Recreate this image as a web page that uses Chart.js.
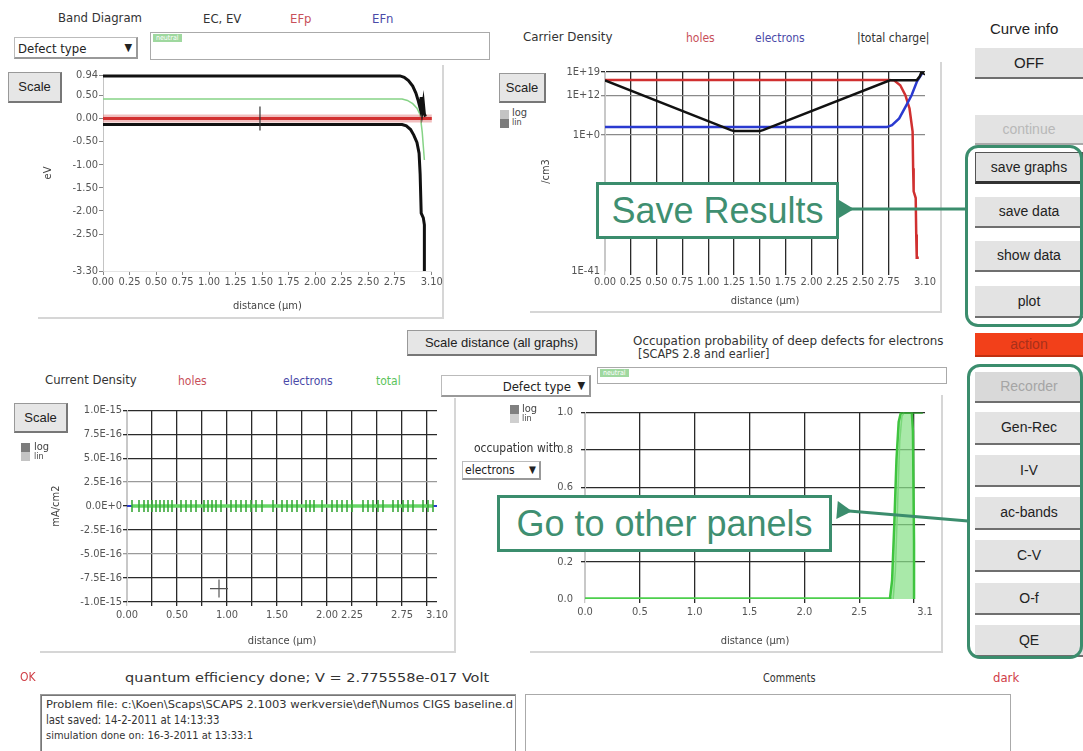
<!DOCTYPE html>
<html>
<head>
<meta charset="utf-8">
<title>SCAPS results panel</title>
<script src="https://cdn.jsdelivr.net/npm/chart.js@4.4.1/dist/chart.umd.min.js"></script>
<style>
  body { margin:0; width:1083px; height:751px; overflow:hidden; background:#fff; position:relative;
         font-family:"Liberation Sans Narrow","DejaVu Sans Condensed","Liberation Sans",sans-serif; color:#333; }
  .a { position:absolute; white-space:nowrap; z-index:5; transform-origin:0 0; }
  canvas { position:absolute; z-index:1; }
  .btn { position:absolute; z-index:5; background:#e3e3e3; border-bottom:2px solid #6f6f6f; box-sizing:border-box;
         text-align:center; font-size:14px; color:#222; font-family:"Liberation Sans","DejaVu Sans",sans-serif; }
  .scale { position:absolute; z-index:5; background:#e6e6e6; border:1px solid #999; border-right:2px solid #777; border-bottom:2px solid #777;
           box-sizing:border-box; text-align:center; font-size:13px; color:#222; font-family:"Liberation Sans",sans-serif; }
  .drop { position:absolute; z-index:5; border:1px solid #bbb; border-right:2px solid #999; border-bottom:2px solid #999;
          box-sizing:border-box; font-size:13px; color:#222; background:#fff; }
  .tbox { position:absolute; z-index:5; border:1px solid #aaa; box-sizing:border-box; background:#fff; }
  .neutral { position:absolute; font-size:7px; color:#fff; background:#9fd89f; padding:0 3px; line-height:8px; }
  .sq { position:absolute; z-index:5; width:9px; height:9px; }
  .lbl { position:absolute; z-index:5; font-size:11px; line-height:10px; color:#444; }
  .frame { position:absolute; z-index:0; background:#d6d6d6; }
  .callout { position:absolute; z-index:6; border:3px solid #3b8d6d; background:#fff; box-sizing:border-box;
             font-family:"Liberation Sans",Arial,sans-serif; color:#3f8f71; text-align:center; }
  .group { position:absolute; z-index:7; border:3px solid #3b8d6d; border-radius:13px; box-sizing:border-box; }
</style>
</head>
<body>
<script>
// ---- Band diagram (eV vs distance in µm) ----
const bandYTicks = [-3.30, -2.50, -2.00, -1.50, -1.00, -0.50, 0.00, 0.50, 0.94];
const bandXTicks = [0, 0.25, 0.5, 0.75, 1.0, 1.25, 1.5, 1.75, 2.0, 2.25, 2.5, 2.75, 3.10];
const ecDist   = [0, 2.80, 2.84, 2.88, 2.92, 2.95, 2.97, 2.99, 3.00, 3.01, 3.02, 3.03, 3.04];
const ecEnergy = [0.92, 0.92, 0.89, 0.82, 0.70, 0.55, 0.40, 0.22, 0.46, 0.18, 0.34, 0.10, 0.04];
const evDist   = [0, 2.82, 2.86, 2.90, 2.93, 2.96, 2.98, 2.99, 3.00, 3.02, 3.03, 3.03];
const evEnergy = [-0.13, -0.13, -0.16, -0.24, -0.36, -0.52, -0.75, -1.20, -2.05, -2.15, -2.30, -3.30];
const efpDist   = [0, 3.10];
const efpEnergy = [0.00, 0.00];
const etDist   = [0, 2.82, 2.87, 2.92, 2.96, 2.99, 3.01, 3.03];
const etEnergy = [0.42, 0.42, 0.39, 0.32, 0.22, 0.08, -0.30, -0.90];
const bandCursor = [1.48, 0.0];

// ---- Carrier density (/cm3, log) ----
const carrierYTicks  = [1e-41, 1e0, 1e12, 1e19];
const carrierYLabels = ['1E-41', '1E+0', '1E+12', '1E+19'];
const carrierXTicks  = [0, 0.25, 0.5, 0.75, 1.0, 1.25, 1.5, 1.75, 2.0, 2.25, 2.5, 2.75, 3.10];
const holesDist = [0, 2.75, 2.80, 2.86, 2.91, 2.95, 2.98, 2.985, 2.99, 3.01, 3.015, 3.02, 3.04];
const holesN    = [4e16, 4e16, 3e16, 1e15, 1e12, 1e8, 1e1, 1e-10, 1e-17, 1e-19, 1e-30, 1e-37, 1e-37];
const elecDist  = [0, 2.73, 2.78, 2.85, 2.92, 2.97, 3.02, 3.06, 3.08];
const elecN     = [2.5e2, 2.5e2, 1e3, 1e5, 1e9, 1e12, 1e16, 1e18, 1e19];
const chargeDist = [0, 1.22, 1.25, 1.50, 1.53, 2.76, 3.02, 3.05, 3.07, 3.08, 3.06];
const chargeN    = [3e16, 3e1, 1.5e1, 1.5e1, 3e1, 3e16, 3e16, 5e17, 2e19, 5e18, 1e19];

// ---- Current density (mA/cm2) ----
const currentYTicks  = [-1.0e-15, -7.5e-16, -5.0e-16, -2.5e-16, 0, 2.5e-16, 5.0e-16, 7.5e-16, 1.0e-15];
const currentYLabels = ['-1.0E-15', '-7.5E-16', '-5.0E-16', '-2.5E-16', '0.0E+0', '2.5E-16', '5.0E-16', '7.5E-16', '1.0E-15'];
const currentXTicks  = [0, 0.25, 0.5, 0.75, 1.0, 1.25, 1.5, 1.75, 2.0, 2.25, 2.5, 2.75, 3.0, 3.10];
const currentXLabels = ['0.00', '', '0.50', '', '1.00', '', '1.50', '', '2.00', '2.25', '', '2.75', '', '3.10'];
const jDist  = [0, 3.10];
const jHoles = [0, 0];
const jElec  = [0, 0];
const jTotalDist = [0.05, 0.12, 0.17, 0.21, 0.25, 0.29, 0.33, 0.37, 0.41, 0.45, 0.54, 0.59, 0.64, 0.69, 0.77, 0.81,
                    0.85, 0.89, 0.94, 1.04, 1.09, 1.14, 1.19, 1.24, 1.29, 1.35, 1.46, 1.55, 1.60, 1.65, 1.70, 1.79,
                    1.83, 1.87, 1.95, 2.05, 2.10, 2.15, 2.20, 2.25, 2.36, 2.41, 2.46, 2.51, 2.56, 2.66, 2.71, 2.76,
                    2.81, 2.86, 2.96, 3.01, 3.06];
const jTotal = [0, 0, 0, 0, 0, 0, 0, 0, 0, 0, 0, 0, 0, 0, 0, 0,
                0, 0, 0, 0, 0, 0, 0, 0, 0, 0, 0, 0, 0, 0, 0, 0,
                0, 0, 0, 0, 0, 0, 0, 0, 0, 0, 0, 0, 0, 0, 0, 0,
                0, 0, 0, 0, 0];
const currentCursor = [0.92, -8.6e-16];

// ---- Occupation probability of deep defects ----
const occYTicks  = [0, 0.2, 0.4, 0.6, 0.8, 1.0];
const occXTicks  = [0, 0.5, 1.0, 1.5, 2.0, 2.5, 3.0, 3.1];
const occXLabels = ['0.0', '0.5', '1.0', '1.5', '2.0', '2.5', '', '3.1'];
const occBaseDist = [0, 2.80];
const occBase     = [0, 0];
const occBandDist = [2.78, 2.80, 2.82, 2.84, 2.86, 2.88, 2.98, 2.99, 3.00, 3.00];
const occBand     = [0, 0.10, 0.40, 0.75, 0.95, 1.0, 1.0, 0.90, 0.30, 0];
const occMidDist  = [2.81, 2.83, 2.85, 2.87, 2.89, 2.91];
const occMid      = [0, 0.15, 0.50, 0.85, 0.98, 1.0];
const occTopDist  = [2.88, 3.08];
const occTop      = [1.0, 1.0];

const FONT = '"Liberation Sans Narrow","DejaVu Sans Condensed","Liberation Sans",sans-serif';
Chart.defaults.font.family = FONT;
Chart.defaults.font.size = 11;
Chart.defaults.color = '#555';
Chart.defaults.animation = false;

const pts = (xs, ys) => xs.map((x, i) => ({ x, y: ys[i] }));
const fixTicks = list => scale => { scale.ticks = list.map(v => ({ value: v })); };
const fixW = w => s => { s.width = w; };
const fixH = h => s => { s.height = h; };

function makeCanvas(left, top, w, h) {
  const c = document.createElement('canvas');
  c.width = w; c.height = h;
  c.style.left = left + 'px'; c.style.top = top + 'px';
  c.style.width = w + 'px'; c.style.height = h + 'px';
  document.body.appendChild(c);
  return c;
}
const basePlugins = { legend: { display: false }, tooltip: { enabled: false } };
const axisTitle = (text, pad) => ({ display: true, text, color: '#444', font: { size: 11 }, padding: pad || 2 });

// Band diagram (datasets listed top-most first; "order" keeps the stacking explicit)
new Chart(makeCanvas(30, 60, 415, 255), {
  type: 'scatter',
  data: { datasets: [
    { order: 0, data: [{ x: bandCursor[0], y: bandCursor[1] }], pointStyle: 'line', rotation: 90, pointRadius: 12,
      borderColor: '#333', borderWidth: 1.2, backgroundColor: '#333' },
    { order: 1, data: pts(ecDist, ecEnergy), showLine: true, borderColor: '#111', borderWidth: 3, pointRadius: 0 },
    { order: 2, data: pts(evDist, evEnergy), showLine: true, borderColor: '#111', borderWidth: 3, pointRadius: 0 },
    { order: 3, data: pts(efpDist, efpEnergy), showLine: true, borderColor: '#d23030', borderWidth: 3, pointRadius: 0 },
    { order: 4, data: pts(efpDist, efpEnergy), showLine: true, borderColor: 'rgba(225,110,110,0.45)', borderWidth: 8, pointRadius: 0 },
    { order: 5, data: pts(etDist, etEnergy), showLine: true, borderColor: '#86d386', borderWidth: 1.5, pointRadius: 0 }
  ]},
  options: {
    responsive: false, clip: false,
    layout: { padding: { left: 10, top: 15, right: 13, bottom: 0 } },
    plugins: basePlugins,
    scales: {
      x: { type: 'linear', min: 0, max: 3.10, afterBuildTicks: fixTicks(bandXTicks), afterFit: fixH(44),
           ticks: { autoSkip: false, maxRotation: 0, padding: 1, callback: v => v.toFixed(2) },
           grid: { drawOnChartArea: false, tickLength: 4, color: '#888' }, border: { color: '#e4e4e4' },
           title: axisTitle('distance (\u00b5m)') },
      y: { type: 'linear', min: -3.30, max: 0.94, afterBuildTicks: fixTicks(bandYTicks), afterFit: fixW(63),
           ticks: { autoSkip: false, padding: 1, callback: v => v.toFixed(2) },
           grid: { drawOnChartArea: false, tickLength: 4, color: '#888' }, border: { color: '#c4c4c4' },
           title: axisTitle('eV') }
    }
  }
});

// Carrier density
new Chart(makeCanvas(530, 60, 410, 250), {
  type: 'scatter',
  data: { datasets: [
    { order: 0, data: pts(chargeDist, chargeN), showLine: true, borderColor: '#111', borderWidth: 2.5, pointRadius: 0 },
    { order: 1, data: pts(elecDist, elecN), showLine: true, borderColor: '#2a3ad0', borderWidth: 2.5, pointRadius: 0 },
    { order: 2, data: pts(holesDist, holesN), showLine: true, borderColor: '#d03030', borderWidth: 2.5, pointRadius: 0 }
  ]},
  options: {
    responsive: false,
    layout: { padding: { left: 8, top: 12, right: 15, bottom: 0 } },
    plugins: basePlugins,
    scales: {
      x: { type: 'linear', min: 0, max: 3.10, afterBuildTicks: fixTicks(carrierXTicks), afterFit: fixH(39),
           ticks: { autoSkip: false, maxRotation: 0, padding: 1, callback: v => v.toFixed(2) },
           grid: { tickLength: 4, lineWidth: 1.3,
                   color: c => c.index === 0 ? '#c8c8c8' : (c.index === carrierXTicks.length - 1 ? 'rgba(0,0,0,0)' : '#2a2a2a') },
           border: { display: false },
           title: axisTitle('distance (\u00b5m)') },
      y: { type: 'logarithmic', min: 1e-41, max: 1e19, afterBuildTicks: fixTicks(carrierYTicks), afterFit: fixW(67),
           ticks: { autoSkip: false, padding: 1, callback: (v, i) => carrierYLabels[i] },
           grid: { tickLength: 4, lineWidth: 1.3,
                   color: c => c.index === 0 ? 'rgba(0,0,0,0)' : (c.index === 3 ? '#2a2a2a' : '#8a8a8a') },
           border: { color: '#c8c8c8' },
           title: axisTitle('/cm3') }
    }
  }
});

// Current density
new Chart(makeCanvas(40, 400, 415, 250), {
  type: 'scatter',
  data: { datasets: [
    { order: 0, data: [{ x: currentCursor[0], y: currentCursor[1] }], pointStyle: 'cross', pointRadius: 9,
      borderColor: '#555', borderWidth: 1.2 },
    { order: 1, data: pts(jTotalDist, jTotal), showLine: true, borderColor: '#66d866', borderWidth: 3.5,
      pointStyle: 'line', rotation: 90, pointRadius: 6, pointBorderWidth: 1.6, pointBorderColor: '#3aa83a' },
    { order: 2, data: pts(jDist, jElec), showLine: true, borderColor: '#2a3ad0', borderWidth: 2, pointRadius: 0 },
    { order: 3, data: pts(jDist, jHoles), showLine: true, borderColor: '#d03030', borderWidth: 2, pointRadius: 0 }
  ]},
  options: {
    responsive: false,
    layout: { padding: { left: 8, top: 9, right: 18, bottom: 0 } },
    plugins: basePlugins,
    scales: {
      x: { type: 'linear', min: 0, max: 3.10, afterBuildTicks: fixTicks(currentXTicks), afterFit: fixH(48),
           ticks: { autoSkip: false, maxRotation: 0, padding: 3, callback: (v, i) => currentXLabels[i] },
           grid: { tickLength: 4, lineWidth: 1.3,
                   color: c => c.index === 0 ? '#c8c8c8' : (c.index === currentXTicks.length - 1 ? 'rgba(0,0,0,0)' : '#2a2a2a') },
           border: { display: false },
           title: axisTitle('distance (\u00b5m)') },
      y: { type: 'linear', min: -1.0e-15, max: 1.0e-15, afterBuildTicks: fixTicks(currentYTicks), afterFit: fixW(79),
           ticks: { autoSkip: false, padding: 1, callback: (v, i) => currentYLabels[i] },
           grid: { tickLength: 4, lineWidth: 1.3,
                   color: c => (c.index === 2 || c.index === 5) ? '#9a9a9a' : '#2a2a2a' },
           border: { color: '#c8c8c8' },
           title: axisTitle('mA/cm2') }
    }
  }
});

// Occupation probability
new Chart(makeCanvas(462, 398, 480, 252), {
  type: 'scatter',
  data: { datasets: [
    { order: 0, data: pts(occTopDist, occTop), showLine: true, borderColor: '#2f9f2f', borderWidth: 2.5, pointRadius: 0 },
    { order: 1, data: pts(occMidDist, occMid), showLine: true, borderColor: '#7bd87b', borderWidth: 1.5, pointRadius: 0 },
    { order: 2, data: pts(occBandDist, occBand), showLine: true, borderColor: '#3fc43f', borderWidth: 2.5, pointRadius: 0,
      fill: 'origin', backgroundColor: 'rgba(140,225,140,0.75)' },
    { order: 3, data: pts(occBaseDist, occBase), showLine: true, borderColor: '#4ccf4c', borderWidth: 3.5, pointRadius: 0 }
  ]},
  options: {
    responsive: false,
    layout: { padding: { left: 0, top: 10, right: 17, bottom: 0 } },
    plugins: basePlugins,
    scales: {
      x: { type: 'linear', min: 0, max: 3.10, afterBuildTicks: fixTicks(occXTicks), afterFit: fixH(51),
           ticks: { autoSkip: false, maxRotation: 0, padding: 3, callback: (v, i) => occXLabels[i] },
           grid: { tickLength: 4, lineWidth: 1.3,
                   color: c => c.index === 0 ? '#c8c8c8' : (c.index === occXTicks.length - 1 ? 'rgba(0,0,0,0)' : '#2a2a2a') },
           border: { display: false },
           title: axisTitle('distance (\u00b5m)') },
      y: { type: 'linear', min: 0, max: 1.0, afterBuildTicks: fixTicks(occYTicks), afterFit: fixW(123),
           ticks: { autoSkip: false, padding: 8, callback: v => v.toFixed(1) },
           grid: { tickLength: 4, lineWidth: 1.3, color: c => c.index === 0 ? 'rgba(0,0,0,0)' : '#2a2a2a' },
           border: { color: '#c8c8c8' } }
    }
  }
});
</script>

<!-- panel frames -->
<div class="frame" style="left:442px;top:65px;width:2px;height:254px"></div>
<div class="frame" style="left:38px;top:317px;width:406px;height:2px"></div>
<div class="frame" style="left:940px;top:62px;width:2px;height:251px"></div>
<div class="frame" style="left:530px;top:311px;width:412px;height:2px"></div>
<div class="frame" style="left:454px;top:398px;width:2px;height:255px"></div>
<div class="frame" style="left:40px;top:651px;width:416px;height:2px"></div>
<div class="frame" style="left:941px;top:395px;width:2px;height:258px"></div>
<div class="frame" style="left:530px;top:651px;width:413px;height:2px"></div>

<!-- band diagram header -->
<div class="a" style="left:58px;top:10px;font-size:13px">Band Diagram</div>
<div class="a" style="left:203px;top:11px;font-size:13px">EC, EV</div>
<div class="a" style="left:290px;top:11px;font-size:13px;color:#c8505a">EFp</div>
<div class="a" style="left:372px;top:11px;font-size:13px;color:#4a4aa8">EFn</div>
<div class="drop" style="left:14px;top:37px;width:124px;height:22px"><span style="position:absolute;left:3px;top:3px">Defect type</span><span style="position:absolute;right:4px;top:3px;font-size:11px">&#9660;</span></div>
<div class="tbox" style="left:150px;top:32px;width:340px;height:28px"><span class="neutral" style="left:2px;top:1px">neutral</span></div>
<div class="scale" style="left:8px;top:72px;width:54px;height:31px;line-height:28px">Scale</div>

<!-- carrier density header -->
<div class="a" style="left:523px;top:30px;font-size:12px;transform:scaleX(1.1)">Carrier Density</div>
<div class="a" style="left:686px;top:31px;font-size:12px;color:#c8505a">holes</div>
<div class="a" style="left:755px;top:31px;font-size:12px;color:#4a4aa8">electrons</div>
<div class="a" style="left:857px;top:31px;font-size:12px">|total charge|</div>
<div class="scale" style="left:499px;top:73px;width:47px;height:30px;line-height:27px">Scale</div>
<div class="sq" style="left:500px;top:110px;background:#c4c4c4"></div>
<div class="sq" style="left:500px;top:119px;background:#7c7c7c"></div>
<div class="lbl" style="left:512px;top:108px">log</div>
<div class="lbl" style="left:512px;top:117px;font-size:9px">lin</div>

<!-- middle row -->
<div class="scale" style="left:407px;top:330px;width:190px;height:26px;line-height:23px">Scale distance (all graphs)</div>
<div class="a" style="left:633px;top:333px;font-size:12.5px;transform:scaleX(1.06)">Occupation probability of deep defects for electrons</div>
<div class="a" style="left:638px;top:346px;font-size:12.5px">[SCAPS 2.8 and earlier]</div>
<div class="drop" style="left:441px;top:375px;width:150px;height:22px"><span style="position:absolute;right:18px;top:3px">Defect type</span><span style="position:absolute;right:4px;top:3px;font-size:11px">&#9660;</span></div>
<div class="tbox" style="left:597px;top:367px;width:350px;height:17px"><span class="neutral" style="left:2px;top:1px">neutral</span></div>
<div class="sq" style="left:510px;top:405px;background:#808080"></div>
<div class="sq" style="left:510px;top:414px;background:#cfcfcf"></div>
<div class="lbl" style="left:522px;top:404px">log</div>
<div class="lbl" style="left:522px;top:413px;font-size:9px">lin</div>
<div class="a" style="left:474px;top:441px;font-size:12px">occupation with</div>
<div class="drop" style="left:462px;top:461px;width:79px;height:19px;font-size:12px"><span style="position:absolute;left:2px;top:1px">electrons</span><span style="position:absolute;right:3px;top:2px;font-size:10px">&#9660;</span></div>

<!-- current density header -->
<div class="a" style="left:45px;top:373px;font-size:12px;transform:scaleX(1.08)">Current Density</div>
<div class="a" style="left:178px;top:374px;font-size:12px;color:#c8505a">holes</div>
<div class="a" style="left:283px;top:374px;font-size:12px;color:#4a4aa8">electrons</div>
<div class="a" style="left:376px;top:374px;font-size:12px;color:#5cc45c">total</div>
<div class="scale" style="left:14px;top:403px;width:54px;height:30px;line-height:27px">Scale</div>
<div class="sq" style="left:21px;top:443px;background:#7c7c7c"></div>
<div class="sq" style="left:21px;top:452px;background:#c4c4c4"></div>
<div class="lbl" style="left:34px;top:442px">log</div>
<div class="lbl" style="left:34px;top:451px;font-size:9px">lin</div>

<!-- right control column -->
<div class="a" style="left:990px;top:20px;font-size:15px;color:#222;font-family:'Liberation Sans',sans-serif">Curve info</div>
<div class="btn" style="left:975px;top:48px;width:108px;height:31px;line-height:29px;font-size:15px">OFF</div>
<div class="btn" style="left:975px;top:115px;width:108px;height:30px;line-height:29px;color:#b8b8b8;border-bottom-color:#aaa">continue</div>
<div class="btn" style="left:975px;top:152px;width:108px;height:32px;line-height:29px;border:1px solid #555;border-bottom:3px solid #333">save graphs</div>
<div class="btn" style="left:975px;top:197px;width:108px;height:31px;line-height:29px">save data</div>
<div class="btn" style="left:975px;top:241px;width:108px;height:31px;line-height:29px">show data</div>
<div class="btn" style="left:975px;top:286px;width:108px;height:32px;line-height:30px">plot</div>
<div class="btn" style="left:975px;top:333px;width:108px;height:24px;line-height:22px;background:#f2401a;color:#a8301a;border-bottom-color:#c03010">action</div>
<div class="btn" style="left:975px;top:372px;width:108px;height:31px;line-height:29px;background:#d9d9d9;color:#a5a5a5">Recorder</div>
<div class="btn" style="left:975px;top:412px;width:108px;height:33px;line-height:31px">Gen-Rec</div>
<div class="btn" style="left:975px;top:455px;width:108px;height:32px;line-height:30px">I-V</div>
<div class="btn" style="left:975px;top:497px;width:108px;height:33px;line-height:31px">ac-bands</div>
<div class="btn" style="left:975px;top:540px;width:108px;height:32px;line-height:30px">C-V</div>
<div class="btn" style="left:975px;top:583px;width:108px;height:32px;line-height:30px">O-f</div>
<div class="btn" style="left:975px;top:625px;width:108px;height:32px;line-height:30px">QE</div>

<!-- callouts -->
<div class="group" style="left:965px;top:145px;width:118px;height:182px"></div>
<div class="group" style="left:967px;top:364px;width:116px;height:295px"></div>
<div class="callout" style="left:596px;top:182px;width:243px;height:57px;font-size:36px;line-height:51px">Save Results</div>
<div class="callout" style="left:497px;top:495px;width:335px;height:57px;font-size:36px;line-height:51px">Go to other panels</div>
<svg class="a" style="left:0;top:0;z-index:8" width="1083" height="751">
  <defs>
    <marker id="head" markerWidth="6" markerHeight="6" refX="1" refY="3" orient="auto" markerUnits="strokeWidth">
      <path d="M5,0 L0,3 L5,6 Z" fill="#3b8d6d"/>
    </marker>
  </defs>
  <line x1="966" y1="209" x2="851" y2="209" stroke="#3b8d6d" stroke-width="3" marker-end="url(#head)"/>
  <line x1="968" y1="521" x2="849" y2="511" stroke="#3b8d6d" stroke-width="3" marker-end="url(#head)"/>
</svg>

<!-- status and comments -->
<div class="a" style="left:20px;top:670px;font-size:12px;color:#d04048">OK</div>
<div class="a" style="left:125px;top:670px;font-size:13px;transform:scaleX(1.24)">quantum efficiency done; V = 2.775558e-017 Volt</div>
<div class="a" style="left:763px;top:670px;font-size:13px;transform:scaleX(0.83)">Comments</div>
<div class="a" style="left:993px;top:670px;font-size:13px;color:#d04048">dark</div>
<div class="tbox" style="left:40px;top:694px;width:476px;height:62px;border-color:#999;box-shadow:inset 1px 1px 0 #777">
  <div style="position:absolute;left:5px;top:3px;font-size:11px;color:#333;white-space:nowrap;transform-origin:0 0;transform:scaleX(1.16)">Problem file: c:\Koen\Scaps\SCAPS 2.1003 werkversie\def\Numos CIGS baseline.d</div>
  <div style="position:absolute;left:5px;top:17px;font-size:13px;color:#333;white-space:nowrap;transform-origin:0 0;transform:scaleX(0.87)">last saved: 14-2-2011 at 14:13:33</div>
  <div style="position:absolute;left:5px;top:34px;font-size:11px;color:#333;white-space:nowrap">simulation done on: 16-3-2011 at 13:33:1</div>
</div>
<div class="tbox" style="left:525px;top:694px;width:486px;height:62px;border-color:#aaa"></div>
</body>
</html>
